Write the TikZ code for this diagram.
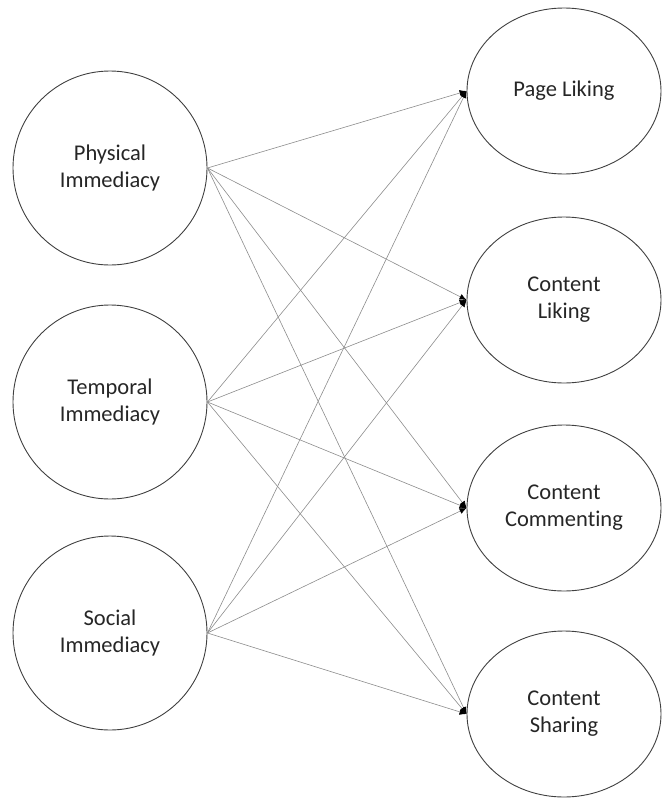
\documentclass[tikz,border=0pt]{standalone}
\usepackage{fontspec}
\setmainfont{Carlito}[Ligatures={NoCommon}]
\usetikzlibrary{shapes.geometric,arrows.meta}

\begin{document}
\begin{tikzpicture}[x=1pt,y=-1pt,
    factor/.style={draw=black!75, line width=0.9pt, circle, minimum size=194pt, align=center, font=\fontsize{22.5}{27}\selectfont, text=black!85},
    outcome/.style={draw=black!75, line width=0.9pt, ellipse, minimum width=194pt, minimum height=166pt, align=center, font=\fontsize{22.5}{27}\selectfont, text=black!85},
    link/.style={draw=black!45, line width=0.6pt, -{Latex[length=7pt,width=6pt,color=black]}}]
            \useasboundingbox (0,0) rectangle (662,798);
            \node[factor] (PI) at (110,168) {Physical\\Immediacy};
            \node[factor] (TI) at (110,402) {Temporal\\Immediacy};
            \node[factor] (SI) at (110,633) {Social\\Immediacy};
            \node[outcome] (PL) at (564,91) {Page Liking};
            \node[outcome] (CL) at (564,300) {Content\\Liking};
            \node[outcome] (CC) at (564,508) {Content\\Commenting};
            \node[outcome] (CS) at (564,714) {Content\\Sharing};

            \draw[link] (PI.east) -- (PL.west);
            \draw[link] (PI.east) -- (CL.west);
            \draw[link] (PI.east) -- (CC.west);
            \draw[link] (PI.east) -- (CS.west);
            \draw[link] (TI.east) -- (PL.west);
            \draw[link] (TI.east) -- (CL.west);
            \draw[link] (TI.east) -- (CC.west);
            \draw[link] (TI.east) -- (CS.west);
            \draw[link] (SI.east) -- (PL.west);
            \draw[link] (SI.east) -- (CL.west);
            \draw[link] (SI.east) -- (CC.west);
            \draw[link] (SI.east) -- (CS.west);
        \end{tikzpicture}
\end{document}
